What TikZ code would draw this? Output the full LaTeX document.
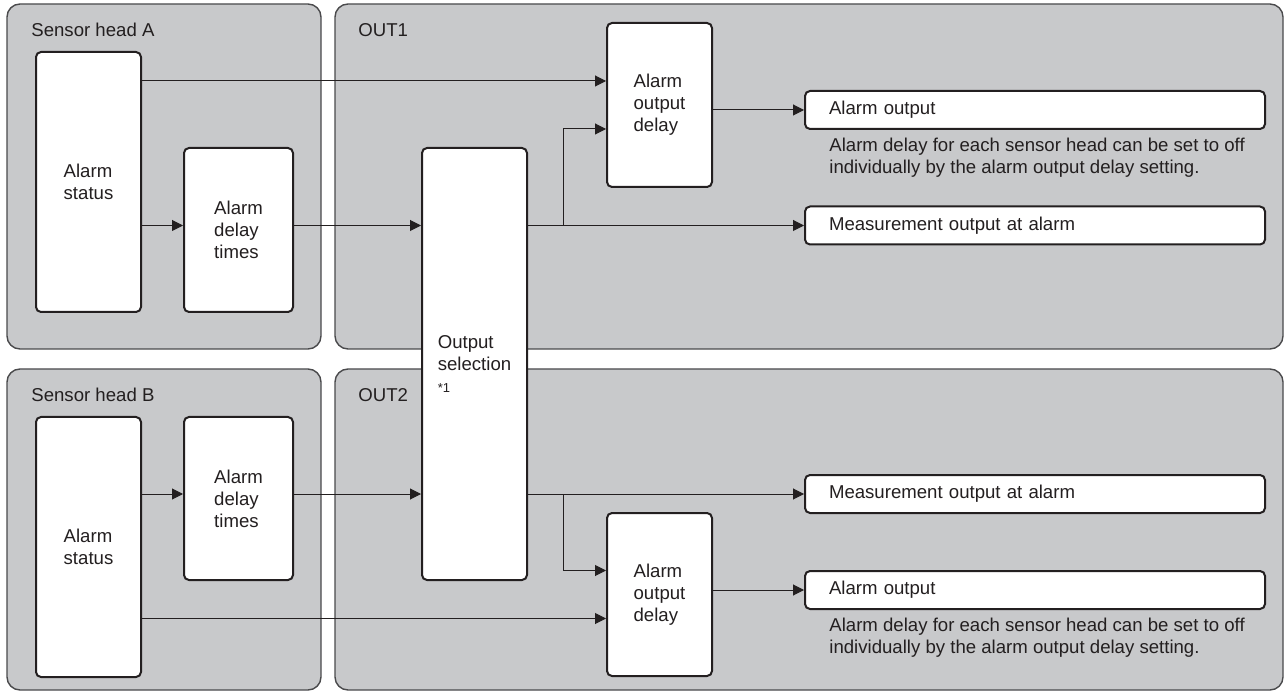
\documentclass[tikz,border=0pt]{standalone}
\usepackage{fontspec}
\setmainfont{Liberation Sans}
\usetikzlibrary{arrows.meta, positioning, calc}
\definecolor{panelgray}{HTML}{C8C9CB}
\definecolor{panelline}{HTML}{4A4A4C}
\definecolor{ink}{HTML}{231F20}

\begin{document}
\begin{tikzpicture}[
    x=0.5pt, y=-0.5pt,
    font=\fontsize{9.3}{11}\selectfont, text=ink,
    panel/.style={draw=panelline, fill=panelgray, rounded corners=6.5pt, line width=0.7pt},
    blk/.style={
      rectangle, rounded corners=2.5pt, draw=ink, fill=white,
      line width=1pt, inner sep=0pt, align=left
    },
    outbox/.style={blk, text width=206pt, inner xsep=12pt, minimum height=19pt},
    tag/.style={anchor=west, inner sep=0pt},
    note/.style={anchor=north west, inner sep=0pt, align=left},
    flow/.style={-{Triangle[length=5.5pt, width=5.5pt]}, draw=ink, line width=0.5pt},
  ]
  \useasboundingbox (0,0) rectangle (1288,694);

  % panels
  \draw[panel] (7,4) rectangle (321,349);
  \draw[panel] (335,4) rectangle (1283,349);
  \draw[panel] (7,369) rectangle (321,690);
  \draw[panel] (335,369) rectangle (1283,690);
  \node[tag] (headA) at (31,30) {Sensor head A};
  \node[tag] (out1) at (358,30) {OUT1};
  \node[tag] (headB) at (31,395) {Sensor head B};
  \node[tag] (out2) at (358,395) {OUT2};

  % sensor head A
  \node[blk, minimum width=52.5pt, minimum height=130pt] (statA) at (88.5,182) {Alarm\\status};
  \node[blk, minimum width=54.5pt, minimum height=82pt] (delA) at (238.5,230) {Alarm\\delay\\times};

  % sensor head B
  \node[blk, minimum width=52.5pt, minimum height=130pt] (statB) at (88.5,547) {Alarm\\status};
  \node[blk, minimum width=54.5pt, minimum height=81.5pt] (delB) at (238.5,498.5) {Alarm\\delay\\times};

  % output selection
  \node[blk, minimum width=52.5pt, minimum height=216pt] (sel) at (474.5,364)
    {Output\\selection\\{\fontsize{6.5}{11}\selectfont *1}};

  % OUT1
  \node[blk, minimum width=52.5pt, minimum height=82pt] (aodA) at (659.5,105) {Alarm\\output\\delay};
  \node[outbox] (aoA) at (1035,110) {Alarm output};
  \node[outbox] (moA) at (1035,225.5) {Measurement output at alarm};
  \node[note] (noteA) at (829,138) {Alarm delay for each sensor head can be set to off\\individually by the alarm output delay setting.};

  % OUT2
  \node[blk, minimum width=52.5pt, minimum height=81.5pt] (aodB) at (659.5,594.5) {Alarm\\output\\delay};
  \node[outbox] (moB) at (1035,494) {Measurement output at alarm};
  \node[outbox] (aoB) at (1035,590) {Alarm output};
  \node[note] (noteB) at (829,618) {Alarm delay for each sensor head can be set to off\\individually by the alarm output delay setting.};

  \coordinate (inA1) at ($(aodA.west)+(0,-24)$);
  \coordinate (inA2) at ($(aodA.west)+(0,24)$);
  \coordinate (inB1) at ($(aodB.west)+(0,-24)$);
  \coordinate (inB2) at ($(aodB.west)+(0,24)$);
  \coordinate (brA) at (563,225.5);
  \coordinate (brB) at (563,494);

  % connectors A
  \draw[flow] (statA.east |- inA1) -- (inA1);
  \draw[flow] (statA.east |- moA.west) -- (delA.west |- moA.west);
  \draw[flow] (delA.east |- moA.west) -- (sel.west |- moA.west);
  \draw[flow] (sel.east |- moA.west) -- (moA.west);
  \draw[flow] (brA) |- (inA2);
  \draw[flow] (aodA.east |- aoA.west) -- (aoA.west);

  % connectors B
  \draw[flow] (statB.east |- moB.west) -- (delB.west |- moB.west);
  \draw[flow] (delB.east |- moB.west) -- (sel.west |- moB.west);
  \draw[flow] (sel.east |- moB.west) -- (moB.west);
  \draw[flow] (brB) |- (inB1);
  \draw[flow] (statB.east |- inB2) -- (inB2);
  \draw[flow] (aodB.east |- aoB.west) -- (aoB.west);
\end{tikzpicture}
\end{document}
